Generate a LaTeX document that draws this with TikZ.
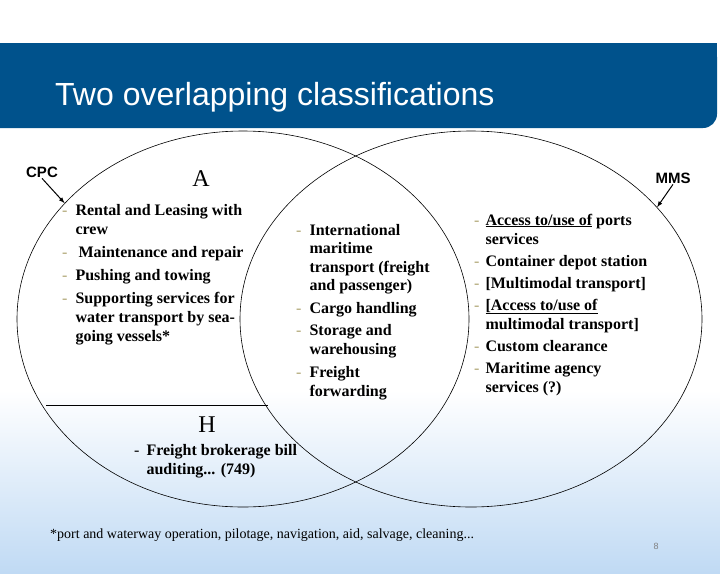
\documentclass[tikz,border=0pt]{standalone}
\usepackage{fontspec}
\setmainfont{Liberation Serif}
\setsansfont{Liberation Sans}
\usetikzlibrary{shapes.geometric}

\definecolor{bannerblue}{RGB}{0,82,140}
\definecolor{bgblue}{RGB}{192,218,244}
\definecolor{dashcol}{RGB}{175,165,115}
\newcommand{\bul}{\textcolor{dashcol}{\mdseries -}}

\tikzset{
  setellipse/.style={draw, ellipse, line width=0.6pt, inner sep=0pt},
  listbox/.style={anchor=base west, inner sep=0pt, font=\fontsize{16}{19}\selectfont\bfseries},
  setletter/.style={anchor=base, inner sep=0pt, font=\fontsize{24}{24}\selectfont},
  settag/.style={anchor=base, inner sep=1pt, font=\sffamily\bfseries\fontsize{15}{15}\selectfont},
}

\begin{document}
\begin{tikzpicture}[x=1pt, y=-1pt]
    \useasboundingbox (0,0) rectangle (720,573);

    % 背景
    \fill[white] (0,0) rectangle (720,573);
    \shade[top color=white, bottom color=bgblue] (0,390) rectangle (720,573);

    % 标题栏
    \fill[bannerblue, rounded corners=14pt] (-40,43) rectangle (717,128);
    \fill[bannerblue] (600,43) rectangle (717,90);
    \node[anchor=base west, inner sep=0pt, text=white, font=\sffamily\fontsize{32}{32}\selectfont] (title) at (55,105) {Two overlapping classifications};

    % 两个集合
    \node[setellipse, minimum width=452, minimum height=376] (cpcset) at (243,319) {};
    \node[setellipse, minimum width=462, minimum height=376] (mmsset) at (471,319) {};

    % 分割线
    \coordinate (hleft) at (46,405);
    \coordinate (hright) at (268,405);
    \draw[line width=0.6pt] (hleft) -- (hright);

    % 集合名称
    \node[settag] (cpc) at (42,177) {CPC};
    \node[settag] (mms) at (673,183) {MMS};
    \draw[-latex, line width=1pt] (cpc.south) -- (cpcset.147);
    \draw[-latex, line width=1pt] (mms.south) -- (mmsset.31);

    \node[setletter] (letA) at (201,186) {A};
    \node[setletter] (letH) at (207,432) {H};

    % 只属于 CPC
    \node[listbox] (cpclist) at (62,215) {\begin{tabular}[t]{@{}l@{\hspace{8pt}}l@{}}
      \bul & Rental and Leasing with\\
           & crew\\[4pt]
      \bul & \hspace{3pt}Maintenance and repair\\[4pt]
      \bul & Pushing and towing\\[4pt]
      \bul & Supporting services for\\
           & water transport by sea-\\
           & going vessels*
    \end{tabular}};

    % 两者共有
    \node[listbox, font=\fontsize{16}{18.5}\selectfont\bfseries] (bothlist) at (296,235) {\begin{tabular}[t]{@{}l@{\hspace{8pt}}l@{}}
      \bul & International\\
           & maritime\\
           & transport (freight\\
           & and passenger)\\[4pt]
      \bul & Cargo handling\\[4pt]
      \bul & Storage and\\
           & warehousing\\[5pt]
      \bul & Freight\\
           & forwarding
    \end{tabular}};

    % 只属于 MMS
    \node[listbox] (mmslist) at (474,225) {\begin{tabular}[t]{@{}l@{\hspace{6pt}}l@{}}
      \bul & \underline{Access to/use of} ports\\
           & services\\[3pt]
      \bul & Container depot station\\[3pt]
      \bul & [Multimodal transport]\\[3pt]
      \bul & \underline{[Access to/use of}\\
           & multimodal transport]\\[3pt]
      \bul & Custom clearance\\[3pt]
      \bul & Maritime agency\\
           & services (?)
    \end{tabular}};

    % H 部分
    \node[listbox] (hlist) at (134,455) {\begin{tabular}[t]{@{}l@{\hspace{7pt}}l@{}}
      {\mdseries -} & Freight brokerage bill\\
                    & auditing... (749)
    \end{tabular}};

    % 脚注
    \node[anchor=base west, inner sep=0pt, font=\fontsize{14}{14}\selectfont] (footnote) at (50,538) {*port and waterway operation, pilotage, navigation, aid, salvage, cleaning...};
    \node[anchor=base, inner sep=0pt, text=gray, font=\sffamily\fontsize{9}{9}\selectfont] (pagenum) at (656,549) {8};
\end{tikzpicture}
\end{document}
